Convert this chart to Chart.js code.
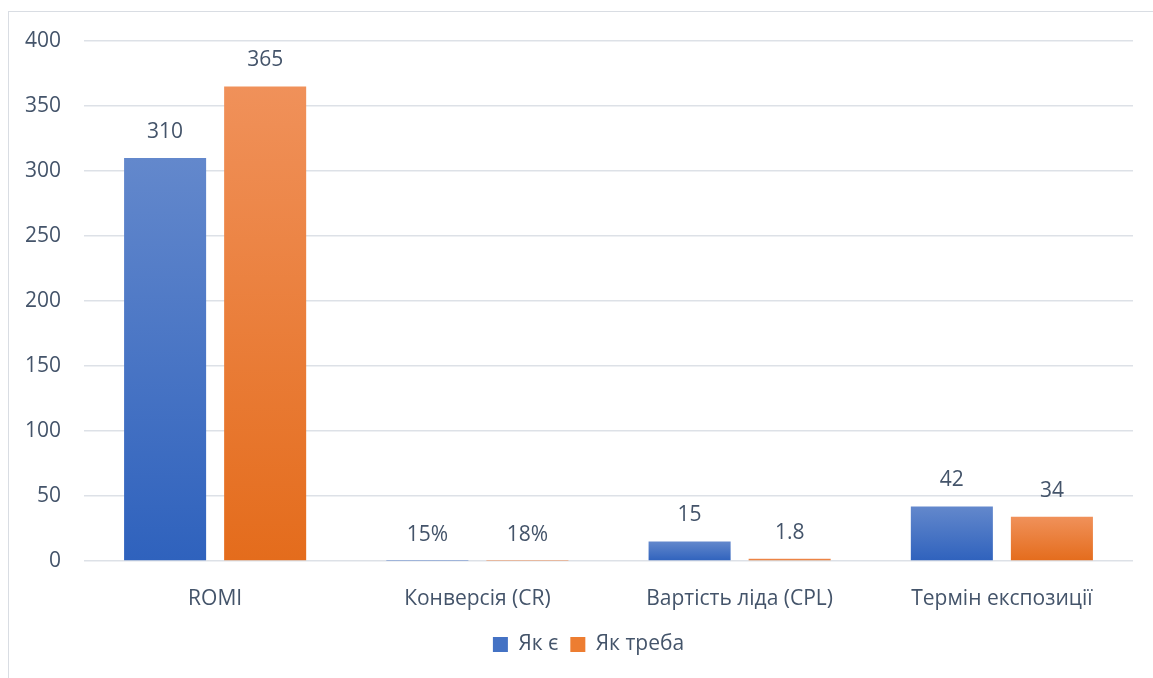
<!DOCTYPE html>
<html>
<head>
<meta charset="utf-8">
<script src="https://cdn.jsdelivr.net/npm/chart.js@4.4.1/dist/chart.umd.min.js"></script>
<style>
  html, body { margin: 0; padding: 0; background: #fff; overflow: hidden; }
  #wrap { position: relative; width: 1153px; height: 678px; }
  #frame { position: absolute; left: 8px; top: 11px; width: 1300px; height: 800px; border: 1px solid #d9dde3; box-sizing: border-box; }
  #chart { position: absolute; left: 0; top: 0; }
</style>
</head>
<body>
<div id="wrap">
  <div id="frame"></div>
  <canvas id="chart" width="1153" height="678"></canvas>
</div>
<script>
// Data
const categories = ['ROMI', 'Конверсія (CR)', 'Вартість ліда (CPL)', 'Термін експозиції'];
const seriesNames = ['Як є', 'Як треба'];
const valuesNow = [310, 0.15, 15, 42];
const valuesTarget = [365, 0.18, 1.8, 34];
const labelsNow = ['310', '15%', '15', '42'];
const labelsTarget = ['365', '18%', '1.8', '34'];
const yTicks = [0, 50, 100, 150, 200, 250, 300, 350, 400];

const textColor = '#44546a';
const gridColor = '#dde1e7';
const fontFamily = '"Open Sans", "DejaVu Sans", sans-serif';
const fontSize = 21;

// Per-bar vertical gradient (lighter at top)
function barGradient(topColor, bottomColor) {
    return function(c) {
        const chart = c.chart;
        const y = chart.scales.y;
        if (!chart.chartArea || !y || c.raw === undefined) return bottomColor;
        const top = y.getPixelForValue(c.raw);
        let base = y.getPixelForValue(0);
        if (base - top < 1) base = top + 1;
        const g = chart.ctx.createLinearGradient(0, top, 0, base);
        g.addColorStop(0, topColor);
        g.addColorStop(1, bottomColor);
        return g;
    };
}

// Value labels above bars
const valueLabels = {
    id: 'valueLabels',
    afterDatasetsDraw(chart) {
        const ctx = chart.ctx;
        const texts = [labelsNow, labelsTarget];
        ctx.save();
        ctx.font = fontSize + 'px ' + fontFamily;
        ctx.fillStyle = textColor;
        ctx.textAlign = 'center';
        ctx.textBaseline = 'middle';
        chart.data.datasets.forEach((ds, i) => {
            const meta = chart.getDatasetMeta(i);
            meta.data.forEach((bar, j) => {
                ctx.fillText(texts[i][j], bar.x, bar.y - 26);
            });
        });
        ctx.restore();
    }
};

// Nudge the legend so it sits centred on the frame like the original
const legendShift = {
    id: 'legendShift',
    afterLayout(chart) {
        const lg = chart.legend;
        if (!lg) return;
        lg.left += 22; lg.right += 22;
        lg.top += 1; lg.bottom += 1;
    }
};

new Chart(document.getElementById('chart'), {
    type: 'bar',
    data: {
        labels: categories,
        datasets: [{
            label: seriesNames[0],
            data: valuesNow,
            backgroundColor: barGradient('#6388cc', '#2f62bd'),
            categoryPercentage: 0.763,
            barPercentage: 0.82
        }, {
            label: seriesNames[1],
            data: valuesTarget,
            backgroundColor: barGradient('#f0915a', '#e46c1c'),
            categoryPercentage: 0.763,
            barPercentage: 0.82
        }]
    },
    options: {
        responsive: false,
        animation: false,
        layout: {
            padding: { top: 41, right: 20, bottom: 14, left: 0 }
        },
        plugins: {
            legend: {
                position: 'bottom',
                labels: {
                    color: textColor,
                    font: { family: fontFamily, size: fontSize },
                    boxWidth: 15,
                    boxHeight: 15,
                    padding: 12,
                    generateLabels(chart) {
                        return chart.data.datasets.map((ds, i) => ({
                            text: ds.label,
                            fillStyle: i === 0 ? '#4472c4' : '#ed7d31',
                            strokeStyle: 'transparent',
                            lineWidth: 0,
                            datasetIndex: i,
                            fontColor: textColor
                        }));
                    }
                }
            },
            tooltip: { enabled: false }
        },
        scales: {
            x: {
                grid: { display: false },
                border: { display: false },
                ticks: {
                    color: textColor,
                    font: { family: fontFamily, size: fontSize },
                    padding: 17
                },
                afterFit(scale) { scale.height = 60; }
            },
            y: {
                min: 0,
                max: 400,
                afterBuildTicks(scale) { scale.ticks = yTicks.map(v => ({ value: v })); },
                grid: { color: gridColor, lineWidth: 1.5, drawTicks: false },
                border: { display: false },
                ticks: {
                    color: textColor,
                    font: { family: fontFamily, size: fontSize },
                    padding: 23
                },
                afterFit(scale) { scale.width = 84; }
            }
        }
    },
    plugins: [valueLabels, legendShift]
});
</script>
</body>
</html>
